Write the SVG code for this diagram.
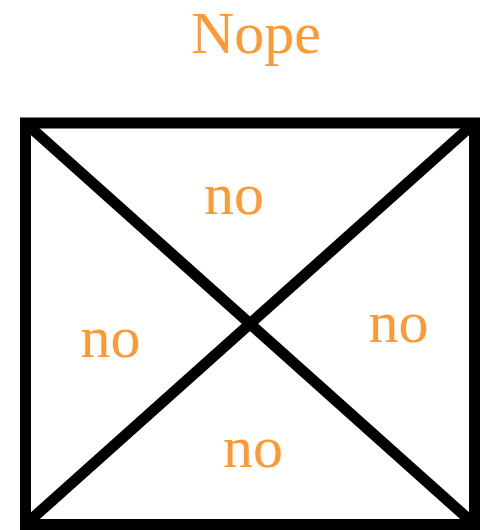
<svg xmlns="http://www.w3.org/2000/svg" width="480" height="530" viewBox="0 0 480 530">
<style>
.t{font-family:"Liberation Serif","Times New Roman",serif;font-size:60px;fill:#ff9933;text-anchor:middle}
.s{fill:none;stroke:#000;stroke-width:11}
</style>
<rect width="480" height="530" fill="#fff"/>
<g id="title"><text class="t" x="256" y="53">Nope</text></g>
<g id="box"><rect class="s" x="25.5" y="123" width="449" height="401.5"/></g>
<g id="connectors">
<line class="s" x1="25.5" y1="123" x2="474.5" y2="524.5"/>
<line class="s" x1="474.5" y1="123" x2="25.5" y2="524.5"/>
</g>
<g id="top"><text class="t" x="234" y="214">no</text></g>
<g id="left"><text class="t" x="110.5" y="357">no</text></g>
<g id="right"><text class="t" x="398.5" y="342">no</text></g>
<g id="bottom"><text class="t" x="253" y="467">no</text></g>
</svg>
